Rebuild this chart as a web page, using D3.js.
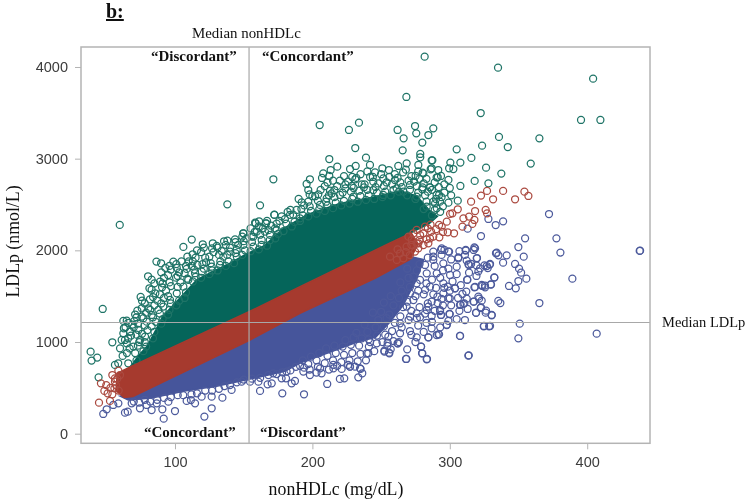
<!DOCTYPE html>
<html><head><meta charset="utf-8">
<script src="https://cdnjs.cloudflare.com/ajax/libs/d3/7.8.5/d3.min.js"></script>
<style>html,body{margin:0;padding:0;background:#fff}svg{display:block;filter:blur(0.3px)}</style>
</head><body><svg id="c" width="750" height="503"></svg>
<script>
const xTicks=[100,200,300,400];
const yTicks=[0,1000,2000,3000,4000];
const medianNonHDLc=153.9, medianLDLp=1213;
const greenDense=[[68,740],[74,860],[80,960],[86,1130],[91,1280],[103.6,1480],[116,1680],[127.7,1770],[140,1860],[152,1960],[165,2050],[178,2230],[196,2390],[220,2510],[244,2580],[264,2650],[276,2590],[285,2440],[291,2370],[285,2290],[191,1590],[72,725]];
const redDense=[[58,660],[69,740],[154.6,1335],[191,1604],[256.5,2080],[272,2190],[277,2070],[271,1900],[245.6,1695],[191,1313],[154.6,1022],[69.4,404],[63,395],[57,470]];
const blueDense=[[60,410],[66,367],[83,390],[107,465],[131,520],[153,590],[180,680],[191,770],[215,900],[234.6,1010],[246,1050],[256,1210],[266,1400],[276,1690],[281,1900],[272,1930],[245.6,1720],[154.6,1050],[69,430]];
const greenPts=[[59.8,2277],[138.1,2502],[161.9,2491],[172.3,2389],[112.2,2117],[106.1,2037],[120.2,2066],[127.5,2077],[130.4,2048],[135.7,2099],[138.1,2106],[143.7,2120],[149.8,2186],[158.3,2302],[161.2,2317],[166.3,2295],[112.9,1957],[86.5,1877],[89.9,1859],[93,1808],[98.8,1877],[104.7,1880],[101.3,1808],[108.5,1797],[112.2,1830],[116.3,1840],[122.6,1869],[80.4,1717],[89.1,1659],[100.8,1702],[81.4,1586],[85.7,1531],[93.5,1560],[90.6,1597],[75,1491],[81.8,1466],[87.2,1451],[47.4,1360],[72.6,1342],[75.8,1368],[80.6,1368],[62.4,1230],[64.9,1233],[70.4,1230],[54.4,997],[38.6,895],[39.3,797],[43.4,830],[44.4,615],[60,931],[56.3,750],[58.7,768],[61.9,848],[66,768],[63.6,1022],[67.2,1113],[62.8,1150],
[62.4,1095],[61.2,1022],[64.9,986],[67.3,1113],[73.4,1131],[69.7,950],[74.6,1022],[78.2,1059],[75.8,1277],[79.4,1222],[83,1295],[87.9,1350],[91.5,1386],[96.4,1459],[101.3,1531],[106.1,1604],[109.7,1677],[114.6,1750],[119.5,1768],[126.7,1822],[132.8,1840],[135.2,1931],[140.1,1986],[144.9,2004],[149.8,2059],[155.8,2150],[159.5,2204],[163.1,2113],[169.2,2168],[174,2222],
[205.3,3367],[226.6,3313],[233.9,3393],[262,3313],[266.4,3222],[274.7,3356],[275.6,3276],[284.4,3258],[288,3331],[280,3175],[265.7,3091],[231.2,3116],[278.5,3051],[278.5,3015],[239,3011],[212.3,2996],[218.1,2913],[213.3,2876],[207.9,2840],[212.3,2811],[207,2789],[227.4,2887],[231.5,2920],[241.9,2931],[245.6,2851],[250.9,2895],[255.7,2876],[262.5,2920],[268.6,2949],[277.1,2931],[286.8,2982],[286.1,2884],[291.6,2876],[280.2,2847],[275.1,2811],[290.4,2796],[171.6,2775],[198.2,2775],[195.8,2724],[197,2658],[231.2,2775],[244.3,2749],[251.6,2785],[260.1,2767],[271,2713],[280.2,2687],[285.6,2687],[212.8,2651],[216,2658],[224,2676],[228.6,2702],[237.5,2687],[204.3,2611],[192.2,2524],[197,2531],[210.4,2567],[220.1,2604],[244.3,2658],[251.6,2604],[261.3,2676],[266.2,2640],[275.9,2586],[290.4,2604],[283.2,2476],[172.3,2386],[177.6,2371],[188.5,2440],[183.7,2386],[205.5,2495],[229.8,2586],[158.7,2295],[166.2,2295],[149.7,2186],[165.5,2204],[172.8,2240],[157,2149],[191,2349],
[281.7,4113],[335.1,3993],[404.3,3873],[268.4,3673],[322.5,3498],[395.5,3422],[409.6,3422],[335.8,3237],[323.5,3142],[342.2,3127],[365.2,3222],[305,3102],[315.7,3008],[307.7,2957],[287.3,2982],[300.4,2957],[302.6,2887],[299.5,2895],[326.4,2902],[337.5,2837],[358.9,2946],[299,2768],[293.6,2811],[291.2,2797],[318.1,2757],[328.1,2731],[307.7,2702],[296,2629],[292.2,2604],[305.8,2542],[292.9,2531],[289.3,2513],[290.5,2458],[286.8,2895],[280.8,2840],[285.6,2687],[280,2666],
[65,880],[67,930],[66,1040],[68,1070],[64,1160],[69,1190],[66,1210],[72,800],[71,880],[73,960],[74,1000],[72,1080],[70,1160],[73,1200],[72,1270],[71,1300],[77,900],[79,950],[78,1000],[76,1090],[80,1130],[78,1180],[77,1260],[79,1320],[78,1420],[76,1450],[84,1040],[85,1110],[83,1170],[86,1220],[84,1270],[82,1350],[85,1400],[84,1490],[83,1570],[85,1640],[83,1680],[90,1200],[91,1250],[89,1310],[90,1420],[92,1480],[89,1520],[91,1640],[92,1700],[90,1760],[95,1300],[96,1350],[97,1420],[95,1500],[97,1610],[96,1650],[95,1730],[97,1790],[96,1830],[101,1400],[103,1450],[102,1600],[104,1650],[102,1720],[103,1760],[101,1850],[107,1480],[108,1540],[109,1690],[107,1750],[108,1830],[110,1880],[109,1930],[113,1660],[115,1710],[114,1790],[113,1880],[115,1920],[116,2000],[119,1700],[121,1800],[120,1850],[122,1920],[119,1980],[121,2030],[125,1740],[127,1780],[126,1860],[125,1930],[128,1980],[127,2020],[131,1780],[133,1880],[132,1950],[134,1990],[131,2030],[137,1830],[139,1880],[138,1950],[140,2030],[137,2060],[143,1860],[145,1930],[144,1970],[146,2060],[144,2090],[149,1950],[151,2000],[150,2100],[152,2130],[149,2150],[155,1990],[157,2040],[156,2090],[158,2200],[155,2240],[161,2010],[163,2060],[162,2170],[164,2240],[161,2260],[167,2050],[169,2110],[168,2220],[170,2270],[167,2320],[173,2130],[175,2180],[174,2290],[176,2320],[179,2210],[181,2290],[180,2340],[182,2420],[185,2260],[187,2310],[186,2390],[184,2440],[191,2320],[193,2380],[192,2450],[194,2490],[190,2560],[197,2370],[199,2430],[198,2480],[200,2590],[198,2610],[203,2400],[205,2450],[204,2540],[202,2590],[206,2660],[209,2430],[211,2490],[210,2530],[212,2600],[209,2700],[211,2740],[215,2460],[217,2520],[216,2580],[214,2620],[218,2700],[215,2760],[221,2490],[223,2540],[222,2630],[224,2720],[220,2760],[223,2810],[227,2510],[229,2560],[228,2640],[230,2680],[226,2750],[229,2800],[233,2530],[235,2590],[234,2650],[236,2720],[232,2790],[235,2830],[239,2550],[241,2600],[240,2660],[238,2720],[242,2800],[240,2860],[245,2560],[247,2630],[246,2690],[248,2730],[244,2800],[251,2580],[253,2640],[252,2700],[254,2740],[250,2830],[257,2600],[259,2660],[258,2720],[256,2800],[260,2830],[263,2640],[265,2690],[264,2740],[262,2790],[266,2850],[269,2600],[271,2660],[270,2760],[272,2810],[268,2880],[275,2560],[277,2630],[276,2700],[274,2750],[278,2780],[277,2860],[281,2450],[283,2530],[282,2600],[284,2640],[281,2730],[283,2780],[287,2380],[289,2440],[288,2530],[290,2560],[287,2660],[289,2740],[293,2420],[295,2480],[294,2580],[292,2690],[296,2720],[299,2520],[301,2600],[300,2680]];
const redPts=[[338.8,2648],[327.1,2648],[322.7,2597],[331.5,2557],[315.5,2531],[347.5,2557],[354.3,2640],[357.2,2593],[326.1,2440],[327.1,2404],[318.4,2429],[317.9,2331],[316.4,2288],[305.8,2448],[300.2,2397],[301.9,2404],[309.9,2349],[314,2368],[309.2,2258],[297.8,2313],[292.2,2277],[294.1,2258],[298.5,2197],[303.1,2186],[292.4,2142],[286.4,2204],[285.6,2131],[284.4,2077],[282,2258],[278.4,2167],[272.3,2113],[275.9,2222],[280.8,2186],[277.1,2077],[269.9,2149],[273.5,2186],[256.5,1931],[263.8,1968],[268.6,2040],[275.9,2077],[261.4,1895],[271,1949],[280.8,2058],[274.7,1986],[266.2,1913],[277.1,2022],[44.7,338],[46.1,549],[48.6,466],[52.7,357],[54.4,429],[51,440],[55.9,495],[56.3,567],[54.4,640],[58.8,687],[56.3,604],[58,600],[60,640],[57,530],[59,470],[53,500],[50,530],[262,2010],[268,1980],[272,2060],[283,2120],[278,2110],[288,2150],[290,2230],[295,2200],[284,2240],[286,2280]];
const bluePts=[[47.8,215],[50.3,266],[55.1,313],[58.8,331],[63.6,229],[65.6,240],[74.5,277],[83,258],[91.8,164],[90.8,266],[100,247],[108.5,357],[111.6,367],[114.6,331],[121.4,186],[126.7,277],[134.5,393],[161.9,466],[167.4,538],[170.4,549],[68.5,331],[79.4,313],[86.7,331],[95.2,349],[119.4,404],[126.7,404],[141.2,477],[148.5,567],[154.6,567],[160.7,567],[177.6,604],[178.1,440],[184.9,550],[187.3,575],[193.9,430],[180.8,604],[210.8,542],[220,597],[223.2,604],[233.4,615],[236.3,659],[235.1,706],[221.3,706],[206.7,659],[198.2,640],[193.4,677],[203,666],[227.3,731],[239.5,877],[241.1,950],[231,731],[215.2,750],[171.5,659],[181.2,677],
[268.1,815],[283.2,811],[279.8,877],[279.1,950],[313.5,851],[307.4,1066],[262.1,986],[256,877],[252.4,895],[254.6,957],[284.4,1051],[275.9,1051],[291.7,1084],[272,1077],[297.7,1189],[324.9,1175],[329.3,1175],[286.8,1149],[278.3,1269],[286.8,1284],[293.6,1295],[299.7,1306],[319.1,1317],[322.5,1371],[330.5,1295],[326.4,1342],[307.4,1404],[310.6,1422],[303.8,1586],[299,1477],[291,1495],[284.4,1386],[292.9,1349],[286.8,1440],[318.4,1600],[323.2,1622],[317.2,1440],[325.6,1615],[335.3,1448],[329.8,1629],[332.4,1702],[312.8,1677],[300.2,1731],[295.3,1640],[305,1822],[313.5,1848],[322,1804],[326.9,1829],[329.3,1851],[306.2,1913],[319.6,1913],[311.6,1997],[317.9,2033],[333.6,1968],[299,1986],[294.1,2022],[288,1986],[295.3,1858],[288,1895],[290.5,1749],[283.2,1749],[278.3,1677],[282,1568],[273.5,1458],[283.2,1349],[271.1,1277],[263.8,1204],[255.3,1059],[246.8,986],[240.7,877],[234.7,713],[227.4,731],[215.3,713],[205.6,713],[275.9,1640],[271.1,1531],[285.6,1604],[273.5,1713],[268.6,1386],[275.9,1313],[263.8,1095],
[372.2,2396],[377.6,2131],[354.8,2131],[349.9,2036],[380.5,1975],[438.5,1996],[438.2,1994],[353.8,1931],[341.4,1945],[334.1,1974],[335.4,1945],[338.8,1865],[347.5,1851],[350.4,1800],[351.9,1756],[355.7,1691],[349.9,1665],[348,1585],[343.1,1611],[389.2,1691],[365.2,1425],[336.8,1425],[330.5,1291],[326.1,1320],[319.1,1320],[322.7,1378],[350.9,1200],[349.9,1040],[406.9,1091],[328.6,1171],[324.7,1171],[307.5,1066],[313.8,855],[338.8,2316],[333.4,2276],[328.1,2342],[313,2236],[322.7,2156],[311.6,2004],[317.4,2004],[318.4,2022],[319.8,1916],[329,1844],[327.6,1807],[325.2,1836],[332.4,1705],[330,1625],[325.7,1596],[323.7,1611],[317.9,1596],[319.4,1720],[312.6,1680],[314,1756],[320.8,1771],[320.8,1495],[321.3,1473],[323.2,1451],[317.6,1440],[312.3,1473],[309.9,1415],[307.9,1407],[309.2,1524],[303.8,1585],[298.5,1604],[315.5,1851],[319.4,1836],[306.2,1924],[312.3,1887],[299.5,1985],[296.1,2004],[293.6,2004],[300,1476],[300,1305],[293.6,1295],[297.8,1185],[292.9,1338],[291.2,1425],[295.3,1531],[290.5,1076],[292.2,1084],[284.4,1051],[279.1,949],[280,876],[283.4,815],[268.4,815],[262.1,985],[254.8,993],[252.4,905],[255.8,884],
[70,350],[74,340],[78,370],[82,350],[87,370],[92,390],[97,400],[102,420],[106,420],[112,430],[116,440],[122,470],[127,470],[132,490],[136,520],[140,530],[145,560],[150,590],[156,600],[162,610],[168,640],[174,650],[178,670],[184,690],[188,730],[191,740],[193,800],[194,720],[197,760],[199,840],[198,700],[203,800],[205,880],[204,730],[209,770],[211,850],[210,930],[212,700],[215,800],[217,880],[216,960],[218,740],[221,780],[223,860],[222,950],[224,1020],[227,800],[229,880],[228,970],[230,1050],[226,750],[233,790],[235,870],[234,960],[236,1040],[232,1100],[239,800],[241,1030],[240,1110],[238,1190],[242,1000],[245,900],[247,1070],[246,1160],[248,1240],[244,1320],[251,1000],[253,1080],[252,1170],[254,1260],[250,1330],[252,1430],[257,920],[259,1010],[258,1120],[260,1210],[256,1300],[259,1400],[257,1500],[263,1000],[265,1160],[264,1280],[266,1380],[263,1480],[265,1560],[264,1650],[269,920],[271,1120],[270,1240],[272,1340],[269,1440],[271,1600],[270,1700],[269,1800],[275,1000],[277,1180],[276,1260],[278,1380],[275,1500],[277,1560],[276,1780],[278,1850],[281,1110],[283,1210],[282,1310],[284,1420],[281,1520],[283,1640],[282,1840],[284,1920],[287,1220],[289,1340],[288,1520],[290,1590],[287,1680],[289,1830],[288,1930],[293,1160],[295,1400],[294,1470],[296,1590],[293,1700],[295,1780],[294,1950],[299,1230],[301,1400],[300,1560],[302,1660],[299,1800],[301,1900],[305,1250],[307,1340],[306,1480],[308,1620],[305,1740],[307,1990],[311,1240],[313,1360],[312,1550],[314,1840],[311,1950]];

const x=d3.scaleLinear().domain([31.6,445.7]).range([81,650]);
const y=d3.scaleLinear().domain([-105,4218]).range([443.3,47]);
const svg=d3.select("#c");
const path=d3.line().x(d=>x(d[0])).y(d=>y(d[1]));
const series=[
 {dense:greenDense,pts:greenPts,fill:"#05655a",stroke:"#1f7467"},
 {dense:blueDense,pts:bluePts,fill:"#46559b",stroke:"#4c5a9c"},
 {dense:redDense,pts:redPts,fill:"#a63a2e",stroke:"#ab4a40"}];
series.forEach(s=>{
 svg.append("path").attr("d",path(s.dense)+"Z").attr("fill",s.fill).attr("stroke",s.fill).attr("stroke-width",1.5);
 svg.append("g").selectAll("circle").data(s.pts).join("circle")
  .attr("cx",d=>x(d[0])).attr("cy",d=>y(d[1])).attr("r",3.5)
  .attr("fill","none").attr("stroke",s.stroke).attr("stroke-width",1.25);
});
const grey="#b4b4b4";
svg.append("line").attr("x1",x(medianNonHDLc)).attr("x2",x(medianNonHDLc)).attr("y1",y.range()[0]).attr("y2",y.range()[1]).attr("stroke","#a8a8a8").attr("stroke-width",1.2);
svg.append("line").attr("x1",x.range()[0]).attr("x2",x.range()[1]).attr("y1",y(medianLDLp)).attr("y2",y(medianLDLp)).attr("stroke","#a8a8a8").attr("stroke-width",1.2);
svg.append("rect").attr("x",81).attr("y",47).attr("width",569).attr("height",396.3).attr("fill","none").attr("stroke",grey).attr("stroke-width",1.5);

const ax=svg.append("g").attr("transform","translate(0,443.3)").call(d3.axisBottom(x).tickValues(xTicks).tickFormat(d3.format("d")).tickSize(6).tickPadding(7));
const ay=svg.append("g").attr("transform","translate(81,0)").call(d3.axisLeft(y).tickValues(yTicks).tickFormat(d3.format("d")).tickSize(6).tickPadding(7));
[ax,ay].forEach(a=>{a.select(".domain").remove();a.selectAll("line").attr("stroke",grey);
 a.selectAll("text").attr("font-family","'Liberation Sans',Arial,sans-serif").attr("font-size",14.5).attr("fill","#3c3c3c");});

const T=(t,px,py,o={})=>svg.append("text").text(t).attr("x",px).attr("y",py)
 .attr("font-family","'Liberation Serif','Times New Roman',serif").attr("font-size",o.size||13)
 .attr("font-weight",o.bold?"bold":"normal").attr("text-anchor",o.anchor||"start").attr("fill","#111")
 .attr("text-decoration",o.under?"underline":null).attr("transform",o.rot?`rotate(-90 ${px} ${py})`:null);
T("b:",106,18,{size:20,bold:true,under:true});
T("Median nonHDLc",192,38,{size:14.9});
T("“Discordant”",151,61,{bold:true,size:15});
T("“Concordant”",262,61,{bold:true,size:15});
T("“Concordant”",144,437,{bold:true,size:15});
T("“Discordant”",260,437,{bold:true,size:15});
T("Median LDLp",662,327,{size:14.5});
T("nonHDLc (mg/dL)",336,495,{size:17.8,anchor:"middle"});
T("LDLp (nmol/L)",19,241.5,{size:17.8,anchor:"middle",rot:true});
</script></body></html>
